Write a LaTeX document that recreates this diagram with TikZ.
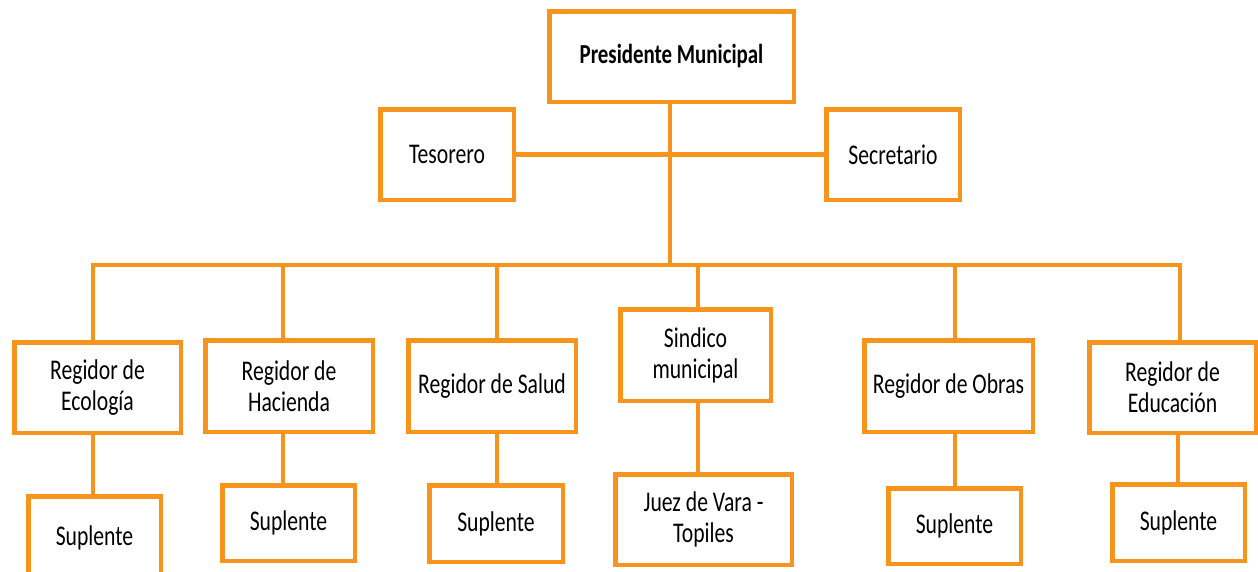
\documentclass[tikz,border=0pt]{standalone}
\usepackage{fontspec}
\setmainfont{Carlito}[FakeStretch=0.76]
\definecolor{org}{RGB}{247,148,30}
\begin{document}
\begin{tikzpicture}[x=1pt,y=-1pt,
  box/.style={draw=org,line width=4.5pt,rectangle,inner sep=0pt,align=center,
    font=\fontsize{28.5}{31}\selectfont},
  link/.style={draw=org,line width=4.5pt}]
\useasboundingbox (0,0) rectangle (1258,571);
\node[box,minimum width=244.5pt,minimum height=90.5pt,font=\fontsize{27.5}{30}\selectfont\bfseries] (pres) at (671.5,56.5) {Presidente Municipal};
\node[box,minimum width=133.5pt,minimum height=90.5pt] (tes) at (447,154.5) {Tesorero};
\node[box,minimum width=133.5pt,minimum height=90.5pt] (sec) at (893,154.5) {Secretario};
\node[box,minimum width=166.5pt,minimum height=90.5pt] (eco) at (97.5,387.5) {Regidor de\\Ecología};
\node[box,minimum width=167.5pt,minimum height=91.5pt] (hac) at (289,386) {Regidor de\\Hacienda};
\node[box,minimum width=167.5pt,minimum height=91.5pt] (sal) at (492,386) {Regidor de Salud};
\node[box,minimum width=150.5pt,minimum height=91.5pt] (sin) at (695.5,355) {Sindico\\municipal};
\node[box,minimum width=168.5pt,minimum height=91.5pt] (obr) at (948.5,386) {Regidor de Obras};
\node[box,minimum width=166.5pt,minimum height=90.5pt] (edu) at (1172.5,387.5) {Regidor de\\Educación};
\node[box,minimum width=132.5pt,minimum height=83.5pt] (s1) at (94.5,538) {Suplente};
\node[box,minimum width=132.5pt,minimum height=75.5pt] (s2) at (288.5,523) {Suplente};
\node[box,minimum width=133.5pt,minimum height=76.5pt] (s3) at (496,523.5) {Suplente};
\node[box,minimum width=176.5pt,minimum height=90.5pt] (juez) at (703.5,519.5) {Juez de Vara -\\Topiles};
\node[box,minimum width=132.5pt,minimum height=75.5pt] (s5) at (954.5,526) {Suplente};
\node[box,minimum width=132.5pt,minimum height=76.5pt] (s6) at (1178.5,522.5) {Suplente};
\coordinate (t) at (670,265);
\coordinate (b1) at (93,265);
\coordinate (b2) at (283,265);
\coordinate (b3) at (497,265);
\coordinate (b4) at (698,265);
\coordinate (b5) at (955,265);
\coordinate (b6) at (1180,265);
\coordinate (e6) at (1178,265);
\draw[link] (tes.east) -- (sec.west);
\draw[link] (t |- pres.south) -- (t);
\draw[link] (b1 |- eco.north) -- (b1) -- (b6) -- (b6 |- edu.north);
\draw[link] (b2) -- (b2 |- hac.north);
\draw[link] (b3) -- (b3 |- sal.north);
\draw[link] (b4) -- (b4 |- sin.north);
\draw[link] (b5) -- (b5 |- obr.north);
\draw[link] (b1 |- eco.south) -- (b1 |- s1.north);
\draw[link] (b2 |- hac.south) -- (b2 |- s2.north);
\draw[link] (b3 |- sal.south) -- (b3 |- s3.north);
\draw[link] (b4 |- sin.south) -- (b4 |- juez.north);
\draw[link] (b5 |- obr.south) -- (b5 |- s5.north);
\draw[link] (e6 |- edu.south) -- (e6 |- s6.north);
\end{tikzpicture}
\end{document}
